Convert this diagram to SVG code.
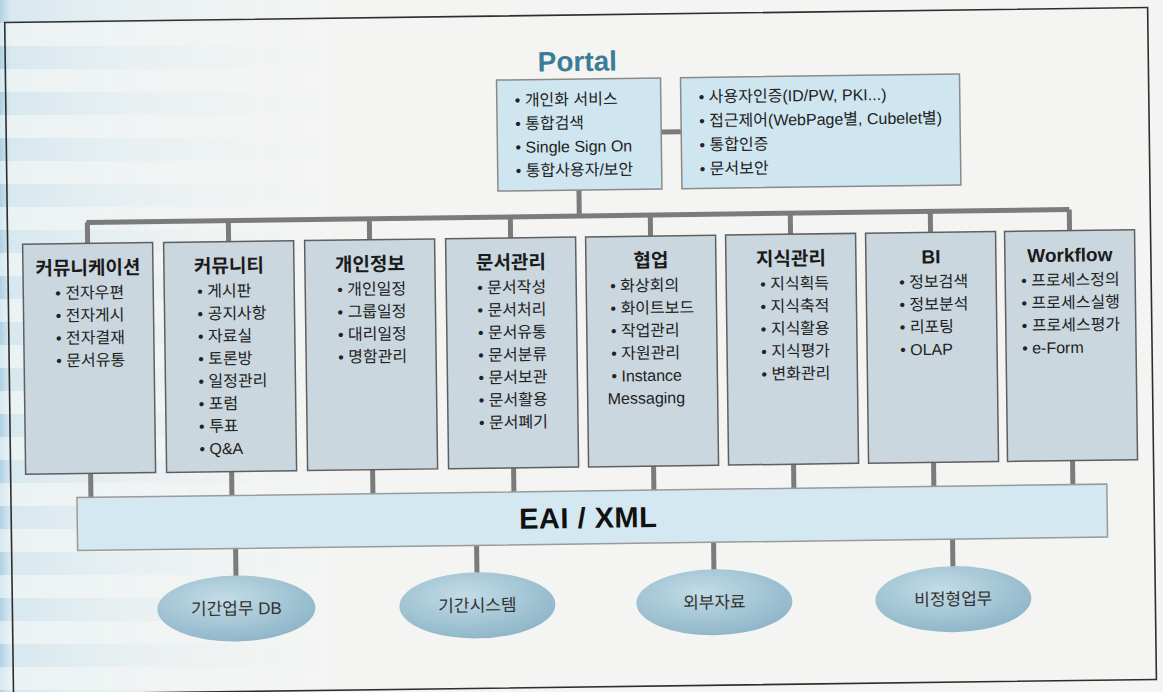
<svg xmlns="http://www.w3.org/2000/svg" width="1163" height="692" viewBox="0 0 1163 692">
<defs>
<linearGradient id="fadeA" gradientUnits="userSpaceOnUse" x1="0" y1="0" x2="360" y2="0">
<stop offset="0" stop-color="#a6cde2" stop-opacity="0.9"/>
<stop offset="0.03" stop-color="#c4dfec" stop-opacity="0.6"/>
<stop offset="0.4" stop-color="#d6e8f0" stop-opacity="0.35"/>
<stop offset="1" stop-color="#e3eef3" stop-opacity="0"/>
</linearGradient>
<linearGradient id="fadeB" gradientUnits="userSpaceOnUse" x1="0" y1="0" x2="360" y2="0">
<stop offset="0" stop-color="#cde5f0" stop-opacity="0.8"/>
<stop offset="0.03" stop-color="#e2eff5" stop-opacity="0.5"/>
<stop offset="1" stop-color="#eef4f6" stop-opacity="0"/>
</linearGradient>
<pattern id="stripes" patternUnits="userSpaceOnUse" x="0" y="0" width="1163" height="46">
<rect x="0" y="0" width="1163" height="23" fill="url(#fadeA)"/>
<rect x="0" y="23" width="1163" height="23" fill="url(#fadeB)"/>
</pattern>
<radialGradient id="ell" cx="0.42" cy="0.35" r="0.65">
<stop offset="0" stop-color="#c3dce7"/>
<stop offset="1" stop-color="#90b7c9"/>
</radialGradient>
<style>
.box{fill:#cad7df;stroke:#5f5f5f;stroke-width:1.5}
.pbox{fill:#cfe6f0;stroke:#8a8a8a;stroke-width:1.5}
.bar{fill:#d3e8f1;stroke:#9a9a9a;stroke-width:1.5}
.conn{stroke:#7b7b7b;stroke-width:5;fill:none}
.ttl{font-family:"Liberation Sans","Noto Sans CJK KR",sans-serif;font-weight:bold;font-size:19px;fill:#1a1a1a;text-anchor:middle}
.it{font-family:"Liberation Sans","Noto Sans CJK KR",sans-serif;font-size:16px;fill:#222}
.el{font-family:"Liberation Sans","Noto Sans CJK KR",sans-serif;font-size:17px;fill:#333;text-anchor:middle}
</style>
</defs>
<rect x="0" y="0" width="1163" height="692" fill="#f4f5f3"/>
<rect x="0" y="0" width="1163" height="692" fill="url(#stripes)"/>
<g transform="rotate(-0.75 580 346)">
<rect x="9" y="15" width="1143" height="672" fill="none" stroke="#2e2e2e" stroke-width="1.6"/>
<g id="connectors">
<line class="conn" x1="664" y1="133" x2="684" y2="133"/>
<line class="conn" x1="581" y1="190" x2="581" y2="216"/>
<line class="conn" x1="88" y1="216" x2="1071" y2="216"/>
<line class="conn" x1="89" y1="216" x2="89" y2="237"/>
<line class="conn" x1="230" y1="216" x2="230" y2="237"/>
<line class="conn" x1="371" y1="216" x2="371" y2="237"/>
<line class="conn" x1="512" y1="216" x2="512" y2="237"/>
<line class="conn" x1="652" y1="216" x2="652" y2="237"/>
<line class="conn" x1="792" y1="216" x2="792" y2="237"/>
<line class="conn" x1="932" y1="216" x2="932" y2="237"/>
<line class="conn" x1="1071" y1="216" x2="1071" y2="237"/>
<line class="conn" x1="89" y1="467" x2="89" y2="491"/>
<line class="conn" x1="230" y1="467" x2="230" y2="491"/>
<line class="conn" x1="371" y1="467" x2="371" y2="491"/>
<line class="conn" x1="512" y1="467" x2="512" y2="491"/>
<line class="conn" x1="652" y1="467" x2="652" y2="491"/>
<line class="conn" x1="792" y1="467" x2="792" y2="491"/>
<line class="conn" x1="932" y1="467" x2="932" y2="491"/>
<line class="conn" x1="1071" y1="467" x2="1071" y2="491"/>
<line class="conn" x1="233" y1="544" x2="233" y2="572"/>
<line class="conn" x1="474" y1="544" x2="474" y2="572"/>
<line class="conn" x1="711" y1="544" x2="711" y2="572"/>
<line class="conn" x1="950" y1="544" x2="950" y2="572"/>
</g>
<g id="portal">
<text x="581" y="71" font-family="Liberation Sans, sans-serif" font-weight="bold" font-size="28" fill="#3b7c97" text-anchor="middle">Portal</text>
<rect class="pbox" x="500" y="79" width="164" height="111"/>
<text class="it" x="518" y="105">• 개인화 서비스</text>
<text class="it" x="518" y="128.5">• 통합검색</text>
<text class="it" x="518" y="152">• Single Sign On</text>
<text class="it" x="518" y="175.5">• 통합사용자/보안</text>
</g>
<g id="security">
<rect class="pbox" x="684" y="79" width="279" height="111"/>
<text class="it" x="702" y="104">• 사용자인증(ID/PW, PKI...)</text>
<text class="it" x="702" y="128">• 접근제어(WebPage별, Cubelet별)</text>
<text class="it" x="702" y="152">• 통합인증</text>
<text class="it" x="702" y="176">• 문서보안</text>
</g>
<g id="communication">
<rect class="box" x="24" y="237" width="130" height="230"/>
<text class="ttl" x="89" y="268">커뮤니케이션</text>
<text class="it" x="56" y="292">• 전자우편</text>
<text class="it" x="56" y="314.5">• 전자게시</text>
<text class="it" x="56" y="337">• 전자결재</text>
<text class="it" x="56" y="359.5">• 문서유통</text>
</g>
<g id="community">
<rect class="box" x="165" y="237" width="130" height="230"/>
<text class="ttl" x="230" y="268">커뮤니티</text>
<text class="it" x="198" y="292">• 게시판</text>
<text class="it" x="198" y="314.5">• 공지사항</text>
<text class="it" x="198" y="337">• 자료실</text>
<text class="it" x="198" y="359.5">• 토론방</text>
<text class="it" x="198" y="382">• 일정관리</text>
<text class="it" x="198" y="404.5">• 포럼</text>
<text class="it" x="198" y="427">• 투표</text>
<text class="it" x="198" y="449.5">• Q&amp;A</text>
</g>
<g id="personal">
<rect class="box" x="306" y="237" width="130" height="230"/>
<text class="ttl" x="371" y="268">개인정보</text>
<text class="it" x="338" y="292">• 개인일정</text>
<text class="it" x="338" y="314.5">• 그룹일정</text>
<text class="it" x="338" y="337">• 대리일정</text>
<text class="it" x="338" y="359.5">• 명함관리</text>
</g>
<g id="document">
<rect class="box" x="447" y="237" width="130" height="230"/>
<text class="ttl" x="512" y="268">문서관리</text>
<text class="it" x="478" y="292">• 문서작성</text>
<text class="it" x="478" y="314.5">• 문서처리</text>
<text class="it" x="478" y="337">• 문서유통</text>
<text class="it" x="478" y="359.5">• 문서분류</text>
<text class="it" x="478" y="382">• 문서보관</text>
<text class="it" x="478" y="404.5">• 문서활용</text>
<text class="it" x="478" y="427">• 문서폐기</text>
</g>
<g id="collab">
<rect class="box" x="587" y="237" width="130" height="230"/>
<text class="ttl" x="652" y="268">협업</text>
<text class="it" x="611" y="292">• 화상회의</text>
<text class="it" x="611" y="314.5">• 화이트보드</text>
<text class="it" x="611" y="337">• 작업관리</text>
<text class="it" x="611" y="359.5">• 자원관리</text>
<text class="it" x="611" y="382">• Instance</text>
<text class="it" x="607" y="404.5">Messaging</text>
</g>
<g id="knowledge">
<rect class="box" x="727" y="237" width="130" height="230"/>
<text class="ttl" x="792" y="268">지식관리</text>
<text class="it" x="761" y="292">• 지식획득</text>
<text class="it" x="761" y="314.5">• 지식축적</text>
<text class="it" x="761" y="337">• 지식활용</text>
<text class="it" x="761" y="359.5">• 지식평가</text>
<text class="it" x="761" y="382">• 변화관리</text>
</g>
<g id="bi">
<rect class="box" x="867" y="237" width="130" height="230"/>
<text class="ttl" x="932" y="268">BI</text>
<text class="it" x="900" y="292">• 정보검색</text>
<text class="it" x="900" y="314.5">• 정보분석</text>
<text class="it" x="900" y="337">• 리포팅</text>
<text class="it" x="900" y="359.5">• OLAP</text>
</g>
<g id="workflow">
<rect class="box" x="1006" y="237" width="130" height="230"/>
<text class="ttl" x="1071" y="268">Workflow</text>
<text class="it" x="1022" y="292">• 프로세스정의</text>
<text class="it" x="1022" y="314.5">• 프로세스실행</text>
<text class="it" x="1022" y="337">• 프로세스평가</text>
<text class="it" x="1022" y="359.5">• e-Form</text>
</g>
<g id="eai">
<rect class="bar" x="75" y="491" width="1030" height="53"/>
<text x="586" y="528" font-family="Liberation Sans, sans-serif" font-weight="bold" font-size="29" letter-spacing="0.5" fill="#111" text-anchor="middle">EAI / XML</text>
</g>
<g id="db">
<ellipse cx="233" cy="604" rx="79" ry="33" fill="url(#ell)"/>
<text class="el" x="233" y="610">기간업무 DB</text>
</g>
<g id="core">
<ellipse cx="474" cy="604" rx="78" ry="33" fill="url(#ell)"/>
<text class="el" x="474" y="610">기간시스템</text>
</g>
<g id="external">
<ellipse cx="711" cy="604" rx="78" ry="33" fill="url(#ell)"/>
<text class="el" x="711" y="610">외부자료</text>
</g>
<g id="unstructured">
<ellipse cx="950" cy="604" rx="78" ry="33" fill="url(#ell)"/>
<text class="el" x="950" y="610">비정형업무</text>
</g>
</g>
</svg>
